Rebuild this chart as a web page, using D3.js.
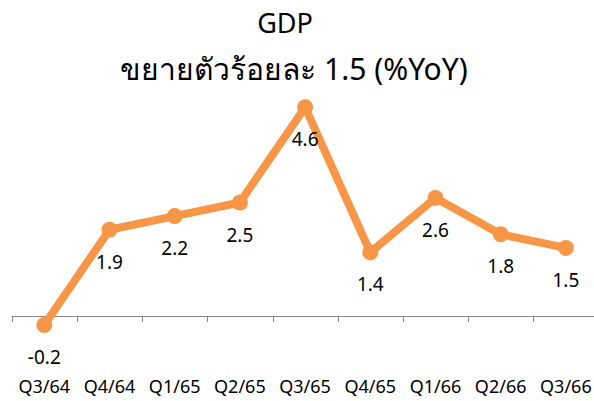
<!DOCTYPE html>
<html>
<head>
<meta charset="utf-8">
<script src="https://cdn.jsdelivr.net/npm/d3@7"></script>
<style>
  body { margin: 0; background: #fff; }
  svg { display: block; font-family: "Noto Sans", "Open Sans", sans-serif; }
</style>
</head>
<body>
<div id="chart"></div>
<script>
// data
const quarters = ['Q3/64', 'Q4/64', 'Q1/65', 'Q2/65', 'Q3/65', 'Q4/65', 'Q1/66', 'Q2/66', 'Q3/66']
const gdpYoY = [-0.2, 1.9, 2.2, 2.5, 4.6, 1.4, 2.6, 1.8, 1.5]
const titleLines = ['GDP', 'ขยายตัวร้อยละ 1.5 (%YoY)']

const W = 594, H = 401
const orange = '#F79646'

const svg = d3.select('#chart').append('svg')
    .attr('width', W)
    .attr('height', H)

svg.append('rect')
    .attr('width', W)
    .attr('height', H)
    .attr('fill', '#fff')

// title
svg.append('text')
    .attr('x', 285)
    .attr('y', 33)
    .attr('text-anchor', 'middle')
    .attr('font-size', '27px')
    .attr('fill', '#000')
    .text(titleLines[0])

svg.append('text')
    .attr('x', 294)
    .attr('y', 80)
    .attr('text-anchor', 'middle')
    .attr('font-size', '30px')
    .attr('fill', '#000')
    .text(titleLines[1])

const x = d3.scaleBand()
    .domain(quarters)
    .range([11.7, 11.7 + 65.2 * quarters.length])

const y = d3.scaleLinear()
    .domain([0, 5])
    .range([316, 316 - 5 * 45.4])

// axis line + ticks at band edges
const axisG = svg.append('g')
svg.append('line')
    .attr('x1', x.range()[0])
    .attr('x2', W)
    .attr('y1', y(0) + 0.5)
    .attr('y2', y(0) + 0.5)
    .attr('stroke', '#868686')
    .attr('stroke-width', 1)

axisG.selectAll('line.tick')
    .data(quarters)
    .join('line')
    .attr('class', 'tick')
    .attr('x1', d => Math.round(x(d)) + 0.5)
    .attr('x2', d => Math.round(x(d)) + 0.5)
    .attr('y1', y(0))
    .attr('y2', y(0) + 6)
    .attr('stroke', '#868686')

axisG.selectAll('text.cat')
    .data(quarters)
    .join('text')
    .attr('class', 'cat')
    .attr('x', d => x(d) + x.bandwidth() / 2)
    .attr('y', 393)
    .attr('text-anchor', 'middle')
    .attr('font-size', '18px')
    .attr('fill', '#000')
    .text(d => d)

const pts = quarters.map((q, i) => ({ q, v: gdpYoY[i] }))

const line = d3.line()
    .x(d => x(d.q) + x.bandwidth() / 2)
    .y(d => y(d.v))

svg.append('path')
    .datum(pts)
    .attr('d', line)
    .attr('fill', 'none')
    .attr('stroke', orange)
    .attr('stroke-width', 8)
    .attr('stroke-linejoin', 'round')

svg.selectAll('circle.pt')
    .data(pts)
    .join('circle')
    .attr('class', 'pt')
    .attr('cx', d => x(d.q) + x.bandwidth() / 2)
    .attr('cy', d => y(d.v))
    .attr('r', 8)
    .attr('fill', orange)

svg.selectAll('text.lbl')
    .data(pts)
    .join('text')
    .attr('class', 'lbl')
    .attr('x', d => x(d.q) + x.bandwidth() / 2)
    .attr('y', d => y(d.v) + 39)
    .attr('text-anchor', 'middle')
    .attr('font-size', '19px')
    .attr('fill', '#000')
    .text(d => d.v.toFixed(1))
</script>
</body>
</html>
